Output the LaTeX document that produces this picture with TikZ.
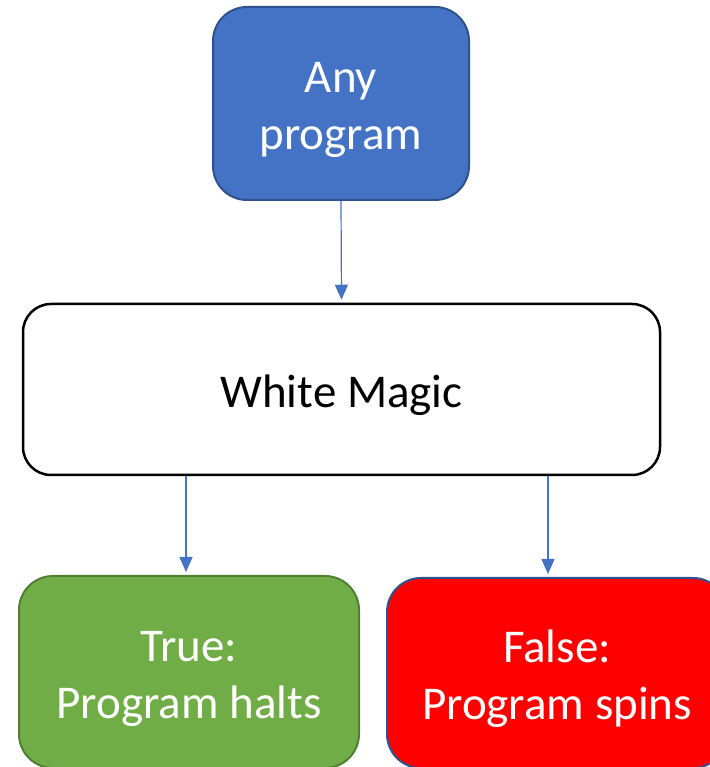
\documentclass[tikz,border=0pt]{standalone}
\usepackage{fontspec}
\setmainfont{Carlito}
\usetikzlibrary{arrows.meta}
\definecolor{accentblue}{HTML}{4472C4}
\definecolor{accentblueline}{HTML}{2F528F}
\definecolor{okgreen}{HTML}{70AD47}
\definecolor{okgreenline}{HTML}{507E32}
\definecolor{badred}{HTML}{FF0000}
% strut on the first line lowers the text block a little inside its box
\newcommand{\toppad}{\rule{0pt}{44pt}}
\tikzset{
  box/.style={rectangle, rounded corners=34pt, align=center, inner sep=0pt,
    font=\fontsize{47}{57}\selectfont, line width=2pt},
  link/.style={draw=accentblue, line width=1.2pt,
    -{Triangle[width=13pt,length=15pt]}, shorten >=3pt}
}
\begin{document}
\begin{tikzpicture}[x=1pt,y=1pt]
  \useasboundingbox (0,0) rectangle (709,767);
  \node[box, fill=accentblue, draw=accentblueline, text=white,
        minimum width=256pt, minimum height=193pt] (any) at (341,663.5)
        {\toppad Any\\program};
  \node[box, fill=white, draw=black, line width=2.5pt, rounded corners=28pt,
        minimum width=637pt, minimum height=171pt] (magic) at (341.5,377.5)
        {\toppad White Magic};
  \node[box, fill=okgreen, draw=okgreenline, text=white,
        minimum width=340pt, minimum height=192pt] (halts) at (189,95)
        {\toppad True:\\Program halts};
  \node[box, fill=badred, draw=accentblueline, text=white,
        minimum width=340pt, minimum height=190pt] (spins) at (557,94)
        {\toppad False:\\Program spins};
  \draw[link] (any.south) -- (magic.north);
  \draw[link] ([xshift=-3pt]magic.south -| halts.north) -- ([xshift=-3pt]halts.north);
  \draw[link] ([xshift=-9pt]magic.south -| spins.north) -- ([xshift=-9pt]spins.north);
\end{tikzpicture}
\end{document}
